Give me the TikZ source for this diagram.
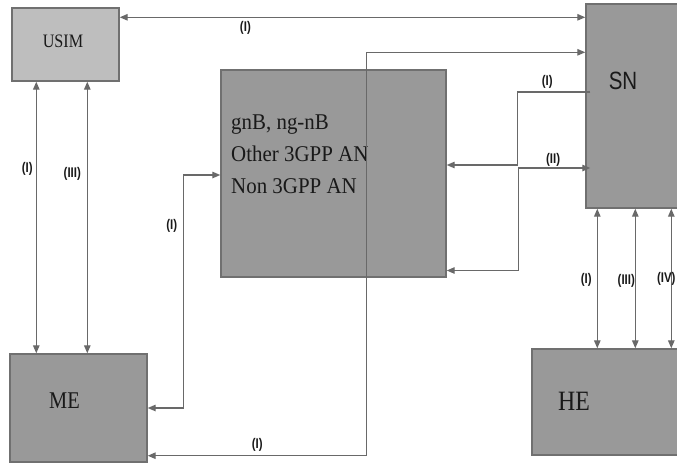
\documentclass[tikz,border=0pt]{standalone}
\usepackage{fontspec}
\usepackage{tikz}
\usetikzlibrary{arrows.meta,positioning,calc}
\newfontfamily\boxserif[FakeStretch=0.85]{Liberation Serif}
\newfontfamily\anserif[FakeStretch=0.93]{Liberation Serif}
\newfontfamily\boxsans[FakeStretch=0.82]{Liberation Sans}
\definecolor{boxgray}{RGB}{153,153,153}
\definecolor{simgray}{RGB}{190,190,190}
\definecolor{edgegray}{RGB}{112,112,112}
\definecolor{linegray}{RGB}{105,105,105}

\begin{document}
\begin{tikzpicture}[x=1pt, y=-1pt,
    box/.style={draw=edgegray, line width=1.4pt, fill=boxgray, inner sep=0pt},
    txt/.style={font=\boxserif\fontsize{#1}{#1}\selectfont, text=black!90, inner sep=0pt},
    lab/.style={font=\boxsans\bfseries\fontsize{14}{14}\selectfont, text=black!90, inner sep=0pt},
    arr/.style={<->, >={Triangle[length=8pt,width=6.5pt]}, draw=linegray, line width=1.3pt},
    arrto/.style={->, >={Triangle[length=8pt,width=6.5pt]}, draw=linegray, line width=1.3pt}
]
\useasboundingbox (0,0) rectangle (677,464);

\node[box, fill=simgray, minimum width=107pt, minimum height=73pt] (usim) at (65.5,44.5) {};
\node[box, minimum width=225pt, minimum height=207pt] (an) at (333.5,173.5) {};
\node[box, minimum width=104pt, minimum height=204pt] (sn) at (638,106) {};
\node[box, minimum width=137pt, minimum height=108pt] (me) at (78.5,408) {};
\node[box, minimum width=158pt, minimum height=106pt] (he) at (611,402) {};

\node[txt=19] (usimtxt) at (63,41.5) {USIM};
\node[txt=24] (metxt) at (64.5,401) {ME};
\node[txt=28] (hetxt) at (574,401) {HE};
\node[lab, font=\boxsans\fontsize{25}{25}\selectfont] (sntxt) at (623,81) {SN};
\node[txt=22.5, font=\anserif\fontsize{22.5}{32}\selectfont, align=left, anchor=north west] (antxt) at (231,115) {gnB, ng-nB\\Other 3GPP AN\\Non 3GPP AN};

\draw[arr] ([yshift=-10pt]usim.north east) -- node[lab, pos=0.27, yshift=-11pt] {(I)} ([yshift=-14pt]sn.north west);
\draw[arr] ([xshift=25pt]usim.south west) -- node[lab, pos=0.32, xshift=-9pt] {(I)} ([xshift=27pt]me.north west);
\draw[arr] ([xshift=76pt]usim.south west) -- node[lab, pos=0.34, xshift=-15pt] {(III)} ([xshift=78pt]me.north west);
\draw[arr] (me.east) -- ++(36,0) |- node[lab, pos=0.39, xshift=-12pt] {(I)} ([yshift=-1.5pt]an.west);
\draw[arr] ([yshift=7pt]me.south east) -- node[lab, pos=0.5, yshift=11pt] {(I)} ++(219,0) |- ([yshift=-49pt]sn.north west);
\draw[arrto] ([xshift=5pt,yshift=14pt]sn.west) -- node[lab, pos=0.59, yshift=10pt] {(I)} ++(-73,0) |- ([yshift=8.5pt]an.east);
\draw[arr] ([yshift=-97pt]an.east) -- ++(72,0) |- node[lab, pos=0.74, yshift=8pt] {(II)} ([xshift=5pt,yshift=-62pt]sn.west);
\draw[arr] ([xshift=12pt]sn.south west) -- node[lab, pos=0.51, xshift=-11pt] {(I)} ([xshift=66pt]he.north west);
\draw[arr] ([xshift=50pt]sn.south west) -- node[lab, pos=0.52, xshift=-9pt] {(III)} ([xshift=104pt]he.north west);
\draw[arr] ([xshift=86pt]sn.south west) -- node[lab, pos=0.5, xshift=-5pt] {(IV)} ([xshift=140pt]he.north west);
\end{tikzpicture}
\end{document}
